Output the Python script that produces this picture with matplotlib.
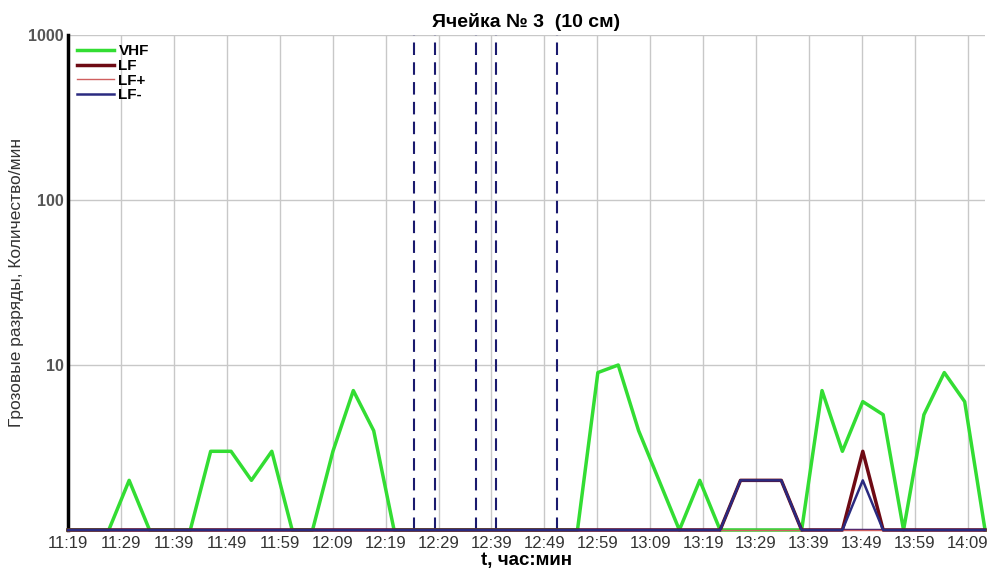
import numpy as np
import matplotlib
matplotlib.use("Agg")
from matplotlib import pyplot as plt

plt.rcParams['font.family'] = ['Liberation Sans', 'DejaVu Sans']

# one sample every ~3.85 min starting 11:19
step = 3.85
vhf = [1, 1, 1, 2, 1, 1, 1, 3, 3, 2, 3, 1, 1, 3, 7, 4, 1, 1, 1, 1, 1, 1, 1, 1,
       1, 1, 9, 10, 4, 2, 1, 2, 1, 1, 1, 1, 1, 7, 3, 6, 5, 1, 5, 9, 6, 1]
lf = [1] * 32 + [1, 2, 2, 2, 1, 1, 1, 3, 1, 1, 1, 1, 1, 1]
lf_plus = [1] * 46
lf_minus = [1] * 32 + [1, 2, 2, 2, 1, 1, 1, 2, 1, 1, 1, 1, 1, 1]
t = np.arange(len(vhf)) * step

tick_labels = ['11:19', '11:29', '11:39', '11:49', '11:59', '12:09', '12:19',
               '12:29', '12:39', '12:49', '12:59', '13:09', '13:19', '13:29',
               '13:39', '13:49', '13:59', '14:09']
ticks = np.arange(len(tick_labels)) * 10

# dashed markers (sample index)
marks = [17, 18, 20, 21, 24]

fig = plt.figure(figsize=(9.9, 5.69), dpi=100)
ax = fig.add_axes([0.0687, 0.0685, 0.9263, 0.87])

ax.set_yscale('log')
ax.set_ylim(1, 1000)
ax.set_xlim(0, t[-1])

for m in marks:
    ax.axvline(m * step, color='#1a1a6e', lw=1.5, ls=(0, (6, 3.5)), zorder=2)

ax.plot(t, vhf, color='#33dd33', lw=2.5, label='VHF', zorder=4, clip_on=False)
ax.plot(t, lf, color='#6e0a14', lw=2.5, label='LF', zorder=5, clip_on=False)
ax.plot(t, lf_plus, color='#d06060', lw=1, label='LF+', zorder=5, clip_on=False)
ax.plot(t, lf_minus, color='#2a2a80', lw=1.8, label='LF-', zorder=6, clip_on=False)
# thick base line along the bottom
ax.axhline(1, color='#3a1c70', lw=2.5, zorder=3)

ax.set_xticks(ticks)
ax.set_xticklabels(tick_labels)
ax.set_yticks([1, 10, 100, 1000])
ax.set_yticklabels(['', '10', '100', '1000'])
ax.minorticks_off()
ax.tick_params(axis='x', length=0, labelsize=12, labelcolor='#333333', pad=4)
ax.tick_params(axis='y', length=0, labelsize=11.5, pad=3)
for lab in ax.get_yticklabels():
    lab.set_fontweight('bold')
    lab.set_color('#555555')

ax.grid(True, color='#c8c8c8', lw=1)
ax.set_axisbelow(True)
for s in ['top', 'right', 'bottom']:
    ax.spines[s].set_visible(False)
ax.spines['left'].set_linewidth(2.5)
ax.spines['left'].set_color('black')

ax.set_title('Ячейка № 3  (10 см)', fontsize=14, fontweight='bold', pad=6)
ax.set_xlabel('t, час:мин', fontsize=13.5, fontweight='bold', labelpad=1)
ax.set_ylabel('Грозовые разряды, Количество/мин', fontsize=12.5, color='#333333', labelpad=3)

leg = ax.legend(loc='upper left', frameon=False, handlelength=2.4,
                handletextpad=0.3, labelspacing=0.05, borderaxespad=0.2,
                prop={'weight': 'bold', 'size': 11})

fig.savefig('out.png', dpi=100)
